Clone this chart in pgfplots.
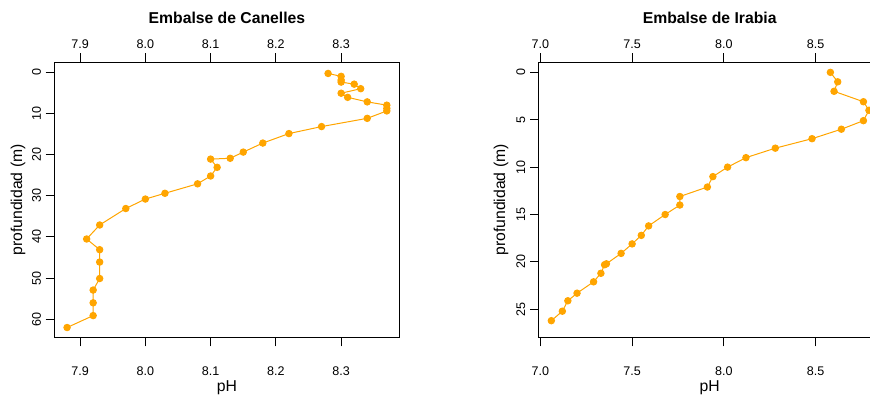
\documentclass[border=0pt]{standalone}
\usepackage{fontspec}
\setmainfont{Liberation Sans}
\usepackage{pgfplots}
\pgfplotsset{compat=1.18}
\definecolor{rorange}{HTML}{FFA500}
\pgfplotstableread{
ph depth
8.28 0.3
8.30 1.0
8.30 1.9
8.30 2.4
8.32 2.9
8.33 4.0
8.30 5.1
8.31 6.1
8.34 7.2
8.37 8.0
8.37 8.8
8.37 9.4
8.34 11.2
8.27 13.2
8.22 14.9
8.18 17.2
8.15 19.4
8.13 20.9
8.10 21.1
8.11 23.1
8.10 25.2
8.08 27.1
8.03 29.4
8.00 30.8
7.97 33.1
7.93 37.1
7.91 40.5
7.93 43.1
7.93 46.1
7.93 50.1
7.92 52.9
7.92 56.0
7.92 59.1
7.88 62.0
}\canelles
\pgfplotstableread{
ph depth
8.58 0.0
8.62 1.0
8.60 2.0
8.76 3.1
8.79 4.0
8.76 5.1
8.64 6.0
8.48 7.0
8.28 8.0
8.12 9.0
8.02 10.0
7.94 11.0
7.91 12.1
7.76 13.1
7.76 14.0
7.68 15.0
7.59 16.2
7.55 17.2
7.50 18.1
7.44 19.1
7.36 20.2
7.35 20.3
7.33 21.2
7.29 22.1
7.20 23.3
7.15 24.1
7.12 25.2
7.06 26.2
}\irabia
\pgfplotsset{
  rbase/.style={
    scale only axis,
    height=206.8pt,
    anchor=south west,
    y dir=reverse,
    axis line style={line width=0.75pt},
    tick style={line width=0.75pt, black},
    tick align=outside,
    major tick length=6.5pt,
    /pgf/number format/assume math mode=true,
    tick label style={font=\fontsize{9.4}{11}\selectfont},
    xticklabel style={/pgf/number format/fixed, /pgf/number format/fixed zerofill, /pgf/number format/precision=1},
    label style={font=\fontsize{11.8}{14}\selectfont},
  },
  rmain/.style={
    rbase,
    xtick pos=upper, xticklabel pos=upper,
    ytick pos=left,
    yticklabel style={rotate=90, anchor=south},
    title style={font=\fontsize{11.8}{14}\selectfont\bfseries, at={(axis description cs:0.5,1)}, anchor=center, yshift=27.4pt},
  },
  rbottom/.style={
    rbase,
    axis x line*=bottom,
    hide y axis,
    xtick pos=lower, xticklabel pos=lower,
    xticklabel style={yshift=-11.8pt},
    xlabel={pH},
    xlabel style={at={(axis description cs:0.5,0)}, anchor=center, yshift=-37.5pt},
  },
  rplot/.style={color=rorange, line width=0.75pt, mark=*, mark size=2.4pt, mark options={fill=rorange, draw=rorange}},
}
\begin{document}
\begin{tikzpicture}
% Left panel
\begin{axis}[rmain, at={(40.7pt,42.2pt)}, width=259pt,
  xmin=7.8604, xmax=8.3896, ymin=-2.48, ymax=64.48,
  xtick={7.9,8.0,8.1,8.2,8.3}, ytick={0,10,20,30,40,50,60},
  title={Embalse de Canelles},
  ylabel={profundidad (m)},
  ylabel style={at={(axis description cs:-0.105,0.5)}, anchor=center},
]
\addplot[rplot] table[x=ph, y=depth] {\canelles};
\end{axis}
\begin{axis}[rbottom, at={(40.7pt,42.2pt)}, width=259pt,
  xmin=7.8604, xmax=8.3896, ymin=-2.48, ymax=64.48,
  xtick={7.9,8.0,8.1,8.2,8.3},
]
\addplot[draw=none] coordinates {(8.0,0)};
\end{axis}
% Right panel
\begin{axis}[rmain, at={(404pt,42.2pt)}, width=256.5pt,
  xmin=6.991, xmax=8.854, ymin=-1.09, ymax=28.0,
  xtick={7.0,7.5,8.0,8.5}, ytick={0,5,10,15,20,25},
  title={Embalse de Irabia},
  ylabel={profundidad (m)},
  ylabel style={at={(axis description cs:-0.110,0.5)}, anchor=center},
]
\addplot[rplot] table[x=ph, y=depth] {\irabia};
\end{axis}
\begin{axis}[rbottom, at={(404pt,42.2pt)}, width=256.5pt,
  xmin=6.991, xmax=8.854, ymin=-1.09, ymax=28.0,
  xtick={7.0,7.5,8.0,8.5},
]
\addplot[draw=none] coordinates {(8.0,0)};
\end{axis}
\pgfresetboundingbox
\path[use as bounding box] (0,0) rectangle (652.5pt,295.5pt);
\end{tikzpicture}
\end{document}
